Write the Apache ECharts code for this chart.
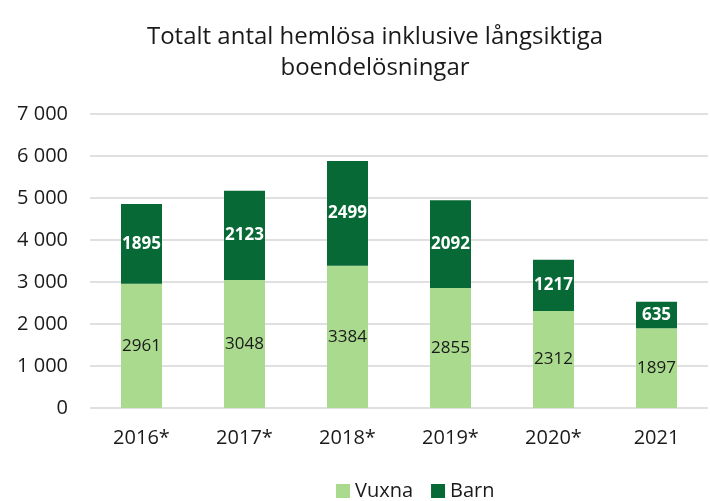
<!DOCTYPE html>
<html>
<head>
<meta charset="utf-8">
<script src="https://cdn.jsdelivr.net/npm/echarts@6/dist/echarts.min.js"></script>
<style>
  html, body { margin: 0; padding: 0; background: #fff; }
  #main { width: 710px; height: 501px; }
</style>
</head>
<body>
<div id="main"></div>
<script>
var years = ['2016*', '2017*', '2018*', '2019*', '2020*', '2021'];
var vuxna = [2961, 3048, 3384, 2855, 2312, 1897];
var barn = [1895, 2123, 2499, 2092, 1217, 635];

var font = '"Open Sans", "Noto Sans", sans-serif';

var chart = echarts.init(document.getElementById('main'));
var option = {
    animation: false,
    textStyle: { fontFamily: font },
    title: {
        text: 'Totalt antal hemlösa inklusive långsiktiga\nboendelösningar',
        left: 370,
        textAlign: 'center',
        top: 17,
        textStyle: {
            fontFamily: font,
            fontSize: 24,
            fontWeight: 'normal',
            color: '#1a1a1a',
            lineHeight: 31
        }
    },
    legend: {
        data: ['Vuxna', 'Barn'],
        top: 476,
        left: 331,
        itemWidth: 14,
        itemHeight: 14,
        itemGap: 18,
        icon: 'rect',
        textStyle: { fontFamily: font, fontSize: 20, color: '#1a1a1a' }
    },
    grid: { left: 90, right: 2, top: 114, bottom: 93 },
    xAxis: {
        type: 'category',
        data: years,
        axisTick: { show: false },
        axisLine: { show: false },
        axisLabel: { fontSize: 20, color: '#1a1a1a', margin: 20, fontFamily: font }
    },
    yAxis: {
        type: 'value',
        min: 0,
        max: 7000,
        interval: 1000,
        axisLabel: {
            fontSize: 20,
            color: '#1a1a1a',
            margin: 22,
            fontFamily: font,
            formatter: function (v) {
                return String(v).replace(/\B(?=(\d{3})+(?!\d))/g, ' ');
            }
        },
        splitLine: { lineStyle: { color: '#d6d6d6', width: 1.5 } }
    },
    series: [{
        name: 'Vuxna',
        type: 'bar',
        stack: 'total',
        barWidth: 41,
        data: vuxna,
        itemStyle: { color: '#a9da8d' },
        label: {
            show: true,
            position: 'inside',
            fontSize: 17,
            color: '#1a1a1a',
            fontFamily: font
        }
    }, {
        name: 'Barn',
        type: 'bar',
        stack: 'total',
        barWidth: 41,
        data: barn,
        itemStyle: { color: '#076935' },
        label: {
            show: true,
            position: 'inside',
            fontSize: 17,
            fontWeight: 'bold',
            color: '#ffffff',
            fontFamily: font
        }
    }]
};
chart.setOption(option);
</script>
</body>
</html>
